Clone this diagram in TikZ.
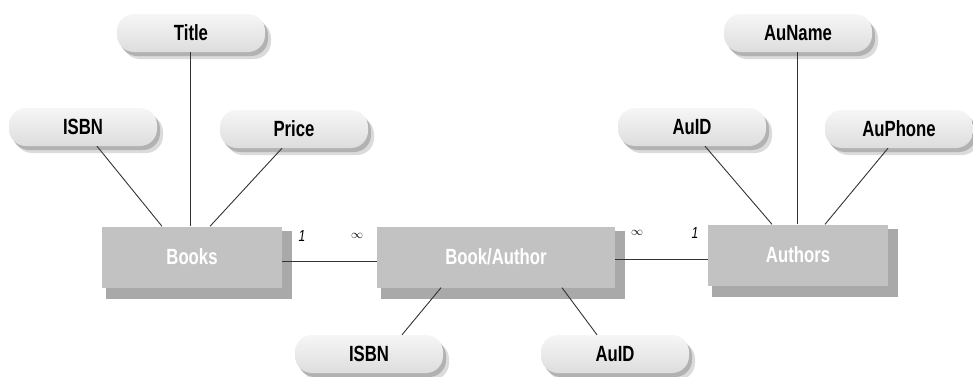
\documentclass[tikz,border=0pt]{standalone}
\usepackage{fontspec}
\newfontfamily\cond{Liberation Sans}[FakeStretch=0.76]
\usetikzlibrary{calc}
\definecolor{pilltop}{HTML}{F6F6F6}
\definecolor{pillbot}{HTML}{DDDDDD}
\definecolor{boxfill}{HTML}{C2C2C2}
\definecolor{boxshadowclr}{HTML}{A9A9A9}
\definecolor{lineclr}{HTML}{333333}
\tikzset{
  attr/.style={rounded corners=17pt, minimum width=148pt, minimum height=38pt,
    top color=pilltop, bottom color=pillbot, inner sep=0pt,
    font=\cond\bfseries\fontsize{22}{24}\selectfont, text=black},
  ent/.style={fill=boxfill, minimum height=61pt, inner sep=0pt,
    font=\cond\bfseries\fontsize{22}{24}\selectfont, text=white},
  conn/.style={draw=lineclr, line width=0.9pt},
  card/.style={font=\cond\itshape\fontsize{16}{17}\selectfont, text=black},
  inf/.style={font=\fontsize{12}{13}\selectfont, text=black}
}
\begin{document}
\begin{tikzpicture}[x=1pt,y=-1pt]
\useasboundingbox (0,0) rectangle (973,376);
% entity shadows
\foreach \x/\y/\w in {192/257/90, 496/257/119, 798/255/90}{
  \fill[boxshadowclr] (\x-\w+4,\y+30.5+11) rectangle (\x+\w+10,\y-30.5+4);
}
\node[ent, minimum width=180pt] (books) at (192,257) {Books};
\node[ent, minimum width=238pt] (ba) at (496,257) {Book/Author};
\node[ent, minimum width=180pt] (auth) at (798,255) {Authors};

% attribute pill shadows
\foreach \x/\y in {191/33, 83/127, 294/129, 798/33, 692/127, 899/129, 369/354, 615/354}{
  \fill[black!14, rounded corners=17pt] (\x-68,\y-12) rectangle (\x+80,\y+26);
  \fill[black!30, rounded corners=17pt] (\x-71,\y-15) rectangle (\x+77,\y+23);
}
\node[attr] (title) at (191,33) {Title};
\node[attr] (isbnA) at (83,127) {ISBN};
\node[attr] (price) at (294,129) {Price};
\node[attr] (auname) at (798,33) {AuName};
\node[attr] (auidA) at (692,127) {AuID};
\node[attr] (auphone) at (899,129) {AuPhone};
\node[attr] (isbnB) at (369,354) {ISBN};
\node[attr] (auidB) at (615,354) {AuID};

% connectors
\draw[conn] ([xshift=14pt]isbnA.south) -- ([xshift=-30pt]books.north);
\draw[conn] ([xshift=-1pt]title.south) -- ([xshift=-2pt]books.north);
\draw[conn] ([xshift=-12pt]price.south) -- ([xshift=18pt]books.north);
\draw[conn] ([xshift=13pt]auidA.south) -- ([xshift=-26pt]auth.north);
\draw[conn] ([xshift=-1pt]auname.south) -- ([xshift=-1pt]auth.north);
\draw[conn] ([xshift=-11pt]auphone.south) -- ([xshift=27pt]auth.north);
\draw[conn] ([xshift=-55pt]ba.south) -- ([xshift=33pt]isbnB.north);
\draw[conn] ([xshift=66pt]ba.south) -- ([xshift=-18pt]auidB.north);
\draw[conn] ([yshift=-4pt]books.east) -- ([yshift=-4pt]ba.west);
\draw[conn] ([yshift=-2pt]ba.east) -- ([yshift=-2pt]auth.west |- ba.east);

% cardinality labels
\node[card] (c1) at (302,236) {1};
\node[inf] (c2) at (357,236) {$\infty$};
\node[inf] (c3) at (637,233) {$\infty$};
\node[card] (c4) at (695,233) {1};
\end{tikzpicture}
\end{document}
